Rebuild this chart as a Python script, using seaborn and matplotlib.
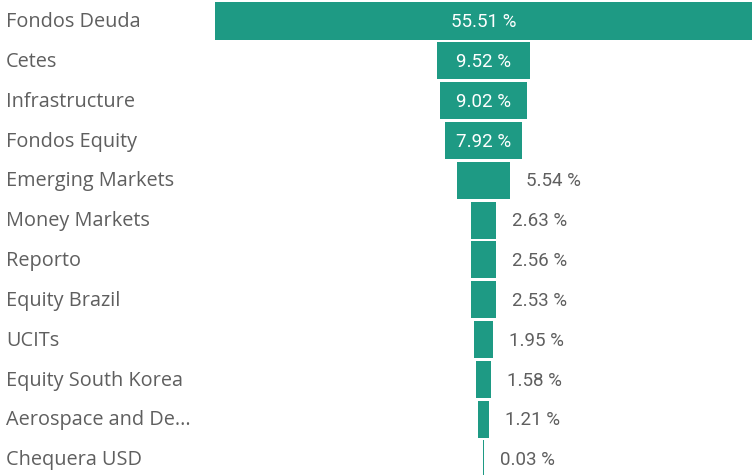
import matplotlib
matplotlib.use("Agg")
import matplotlib.pyplot as plt
import seaborn as sns
import pandas as pd

categories = ["Fondos Deuda", "Cetes", "Infrastructure", "Fondos Equity", "Emerging Markets",
              "Money Markets", "Reporto", "Equity Brazil", "UCITs", "Equity South Korea",
              "Aerospace and De...", "Chequera USD"]
values = [55.51, 9.52, 9.02, 7.92, 5.54, 2.63, 2.56, 2.53, 1.95, 1.58, 1.21, 0.03]

df = pd.DataFrame({"cat": categories, "val": values})

sns.set_theme(style="white")
plt.rcParams['font.family'] = ['Open Sans', 'DejaVu Sans']

W, H = 752, 475
fig = plt.figure(figsize=(W / 100, H / 100), dpi=100)
ax = fig.add_axes([0, 0, 1, 1])

teal = "#1E9A84"
sns.barplot(data=df, x="val", y="cat", orient="h", color=teal, saturation=1,
            width=0.93, ax=ax)

# center bars (funnel)
for p in ax.patches:
    w = max(p.get_width(), 0.15)
    p.set_width(w)
    p.set_x(-w / 2)
    p.set_edgecolor("none")

scale = 9.67  # px per unit
center_px = 483.5
ax.set_xlim(-center_px / scale, (W - center_px) / scale)
pitch = 39.8
ax.set_ylim(11 + (H - 459) / pitch, -21 / pitch)
ax.axis("off")

for i, (c, v) in enumerate(zip(categories, values)):
    ax.text(6 / W, i + 0.03, c, transform=ax.get_yaxis_transform(), ha="left", va="center",
            fontsize=14.3, color="#5f5f5f")
    lab = f"{v:.2f} %"
    if v > 7:
        ax.text(0, i + 0.03, lab, ha="center", va="center", fontsize=13.5, color="white",
                family=["Roboto", "DejaVu Sans"], fontweight="normal")
    else:
        ax.text(v / 2 + 16 / scale, i + 0.03, lab, ha="left", va="center", fontsize=13.5,
                color="#5f5f5f", family=["Roboto", "DejaVu Sans"], fontweight="normal")

fig.savefig("out.png", dpi=100)
